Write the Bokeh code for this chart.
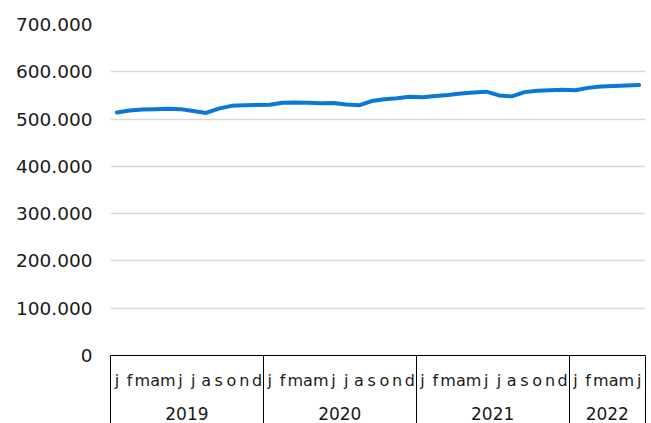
from bokeh.plotting import figure
from bokeh.models import Range1d, FixedTicker, LinearAxis, Label
from bokeh.embed import file_html
from bokeh.resources import INLINE
import numpy as np

title_text = "Januari 2019 t/m juni 2022"
years = ["2019", "2020", "2021", "2022"]
months_per_year = [12, 12, 12, 6]
month_letters = ["j", "f", "m", "a", "m", "j", "j", "a", "s", "o", "n", "d"]
values = [
    514000, 518000, 520000, 521000, 522000, 521000, 517000, 513000, 522000, 528000, 529000, 530000,
    530500, 534500, 535000, 534500, 533500, 534000, 531000, 529000, 538000, 542000, 544000, 547000,
    546000, 549000, 551000, 554000, 556000, 558000, 550000, 548000, 557000, 560000, 561000, 562000,
    561000, 566000, 569000, 570000, 571000, 572000,
]
y_ticks = [0, 100000, 200000, 300000, 400000, 500000, 600000, 700000]
y_tick_labels = ["0", "100.000", "200.000", "300.000", "400.000", "500.000", "600.000", "700.000"]

n = len(values)
x = [i + 0.5 for i in range(n)]
month_labels = [month_letters[i % 12] for i in range(n)]
bounds = [0] + [int(v) for v in np.cumsum(months_per_year)]
year_centers = [(bounds[i] + bounds[i + 1]) / 2 for i in range(len(years))]

BLUE = "#0a78d7"
TXT = "#1a1a1a"
XFONT = "DejaVu Sans"

p = figure(width=651, height=423, output_backend="svg", toolbar_location=None,
           x_range=Range1d(0, n), y_range=Range1d(0, 700000),
           x_axis_type=None,
           min_border_left=110, min_border_right=6, min_border_top=24, min_border_bottom=68)
p.outline_line_color = None
p.background_fill_color = "white"
p.border_fill_color = "white"

p.yaxis.ticker = FixedTicker(ticks=y_ticks)
p.yaxis.major_label_overrides = dict(zip(y_ticks, y_tick_labels))
p.yaxis.axis_line_color = None
p.yaxis.major_tick_in = 0
p.yaxis.major_tick_out = 0
p.yaxis.minor_tick_line_color = None
p.yaxis.major_label_standoff = 18
p.yaxis.major_label_text_font = "DejaVu Sans"
p.yaxis.major_label_text_font_size = "18.5px"
p.yaxis.major_label_text_color = TXT
p.ygrid.ticker = FixedTicker(ticks=y_ticks[1:])
p.ygrid.grid_line_color = "#d9d9d9"
p.ygrid.grid_line_width = 1.5

# month row; its long minor ticks draw the year separators
month_axis = LinearAxis(
    ticker=FixedTicker(ticks=x, minor_ticks=[float(b) for b in bounds]),
    major_label_overrides={xi: m for xi, m in zip(x, month_labels)},
    axis_line_color="black", axis_line_width=1,
    major_tick_in=0, major_tick_out=0,
    minor_tick_in=0, minor_tick_out=70,
    minor_tick_line_color="black", minor_tick_line_width=1,
    major_label_standoff=15 - 70,
    major_label_text_font=XFONT,
    major_label_text_font_size="16px",
    major_label_text_color=TXT,
)
p.add_layout(month_axis, "below")

# year row
year_axis = LinearAxis(
    ticker=FixedTicker(ticks=year_centers, minor_ticks=[]),
    major_label_overrides={yc: y for yc, y in zip(year_centers, years)},
    axis_line_color=None,
    major_tick_in=0, major_tick_out=0,
    minor_tick_in=0, minor_tick_out=0,
    major_label_standoff=14,
    major_label_text_font=XFONT,
    major_label_text_font_size="17px",
    major_label_text_color=TXT,
)
p.add_layout(year_axis, "below")

p.line(x, values, line_color=BLUE, line_width=4, line_join="round", line_cap="round")

p.add_layout(Label(x=0, y=700000, x_offset=-108, y_offset=20, text=title_text,
                   text_font="DejaVu Sans", text_font_size="18.5px", text_color=BLUE,
                   text_baseline="alphabetic"))

open("out.html", "w").write(file_html(p, INLINE))
